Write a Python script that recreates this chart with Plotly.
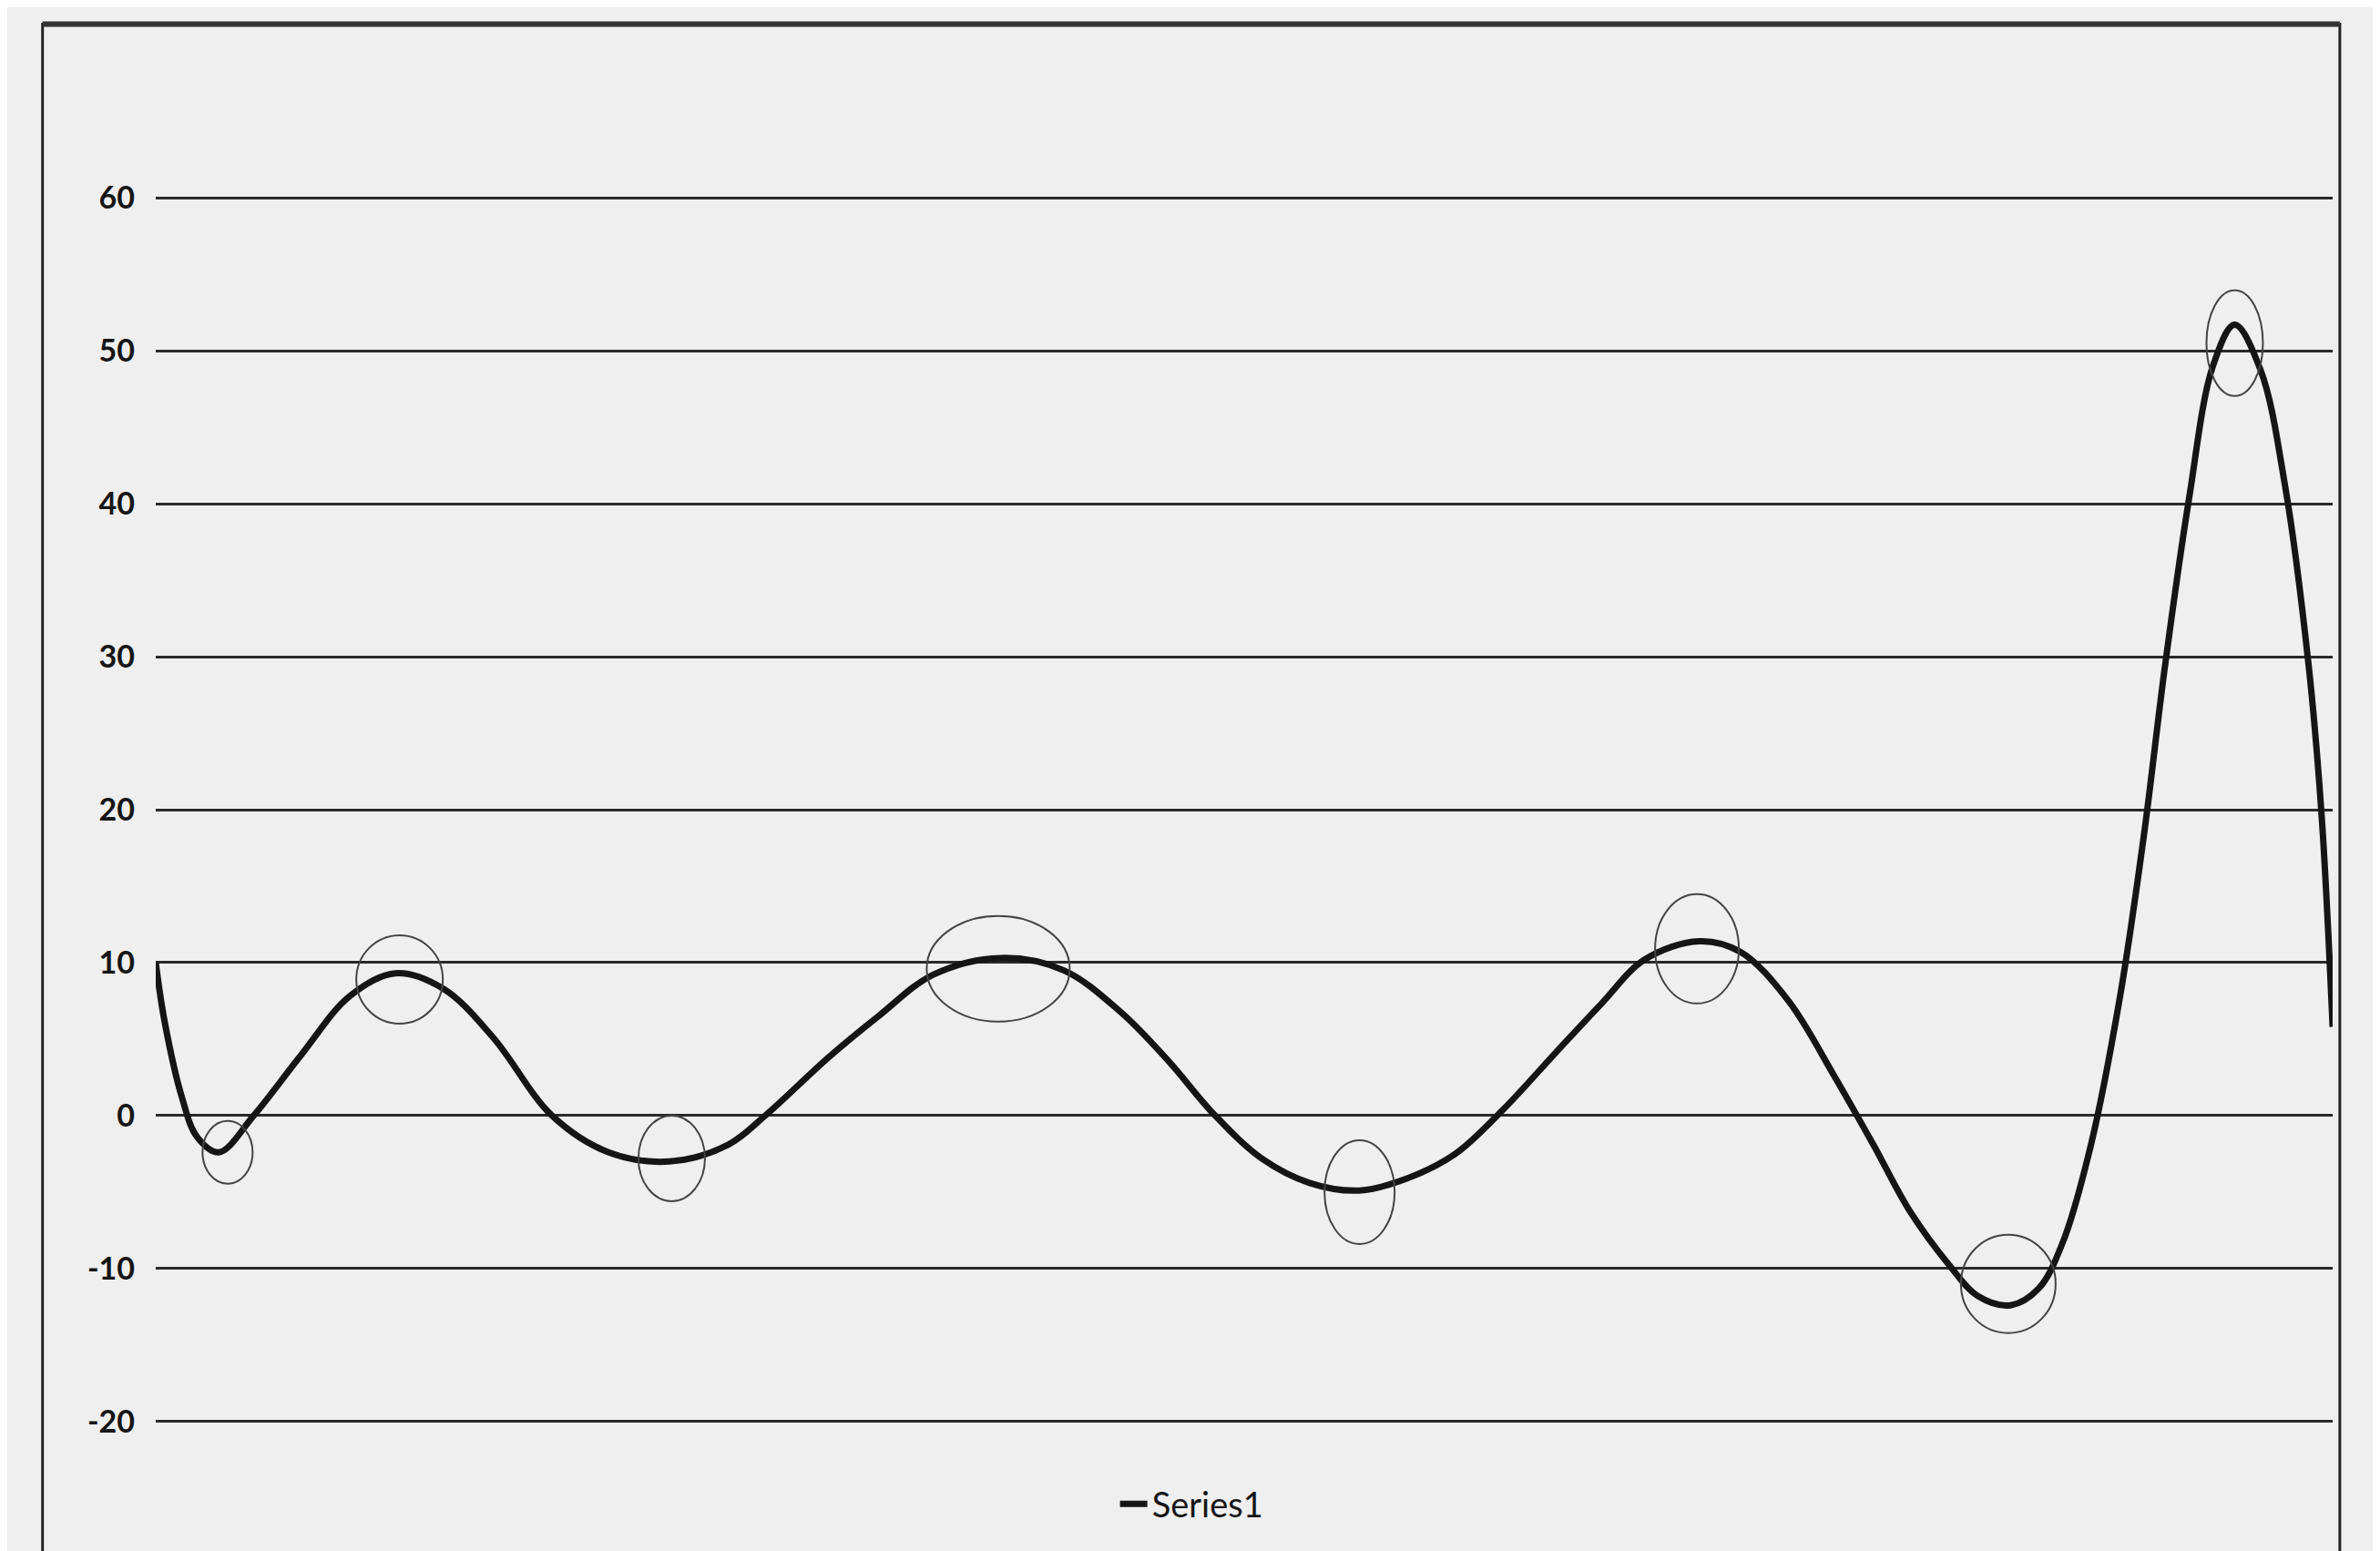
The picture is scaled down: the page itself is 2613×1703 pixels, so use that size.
import plotly.graph_objects as go

# Curve samples (x in arbitrary units 0..10)
curve_x = [0.00, 0.04, 0.12, 0.19, 0.29, 0.45, 0.67, 0.89, 1.10, 1.32, 1.55, 1.82,
           2.08, 2.36, 2.63, 2.80, 3.09, 3.32, 3.57, 3.88, 4.17, 4.43, 4.65, 4.86,
           5.08, 5.30, 5.53, 5.75, 5.97, 6.19, 6.43, 6.64, 6.84, 7.09, 7.28, 7.50,
           7.71, 7.89, 8.06, 8.24, 8.37, 8.52, 8.65, 8.76, 8.89, 9.02, 9.13, 9.23,
           9.34, 9.45, 9.55, 9.67, 9.78, 9.89, 9.95, 10.00]
curve_y = [10.0, 6.2, 1.2, -1.4, -2.4, 0.0, 4.0, 7.8, 9.3, 8.3, 5.1, 0.0,
           -2.4, -3.0, -1.9, 0.0, 3.8, 6.5, 9.2, 10.3, 9.5, 6.8, 3.6, 0.1,
           -2.8, -4.4, -4.9, -4.1, -2.5, 0.4, 4.1, 7.3, 10.2, 11.4, 10.7, 7.5,
           2.6, -1.9, -6.3, -9.8, -11.8, -12.4, -11.3, -8.3, -1.9, 7.5, 18.0, 29.4,
           40.3, 49.0, 51.7, 48.7, 41.3, 29.4, 19.5, 5.8]

# Hand-drawn circles around the turning points (centres in data units)
circle_x = [0.33, 1.12, 2.37, 3.87, 5.53, 7.08, 8.51, 9.55]
circle_y = [-2.4, 8.9, -2.8, 9.6, -5.0, 10.9, -11.0, 50.5]
# circle sizes in pixels (style)
circle_w = [55, 95, 73, 157, 77, 92, 104, 62]
circle_h = [69, 97, 94, 116, 114, 120, 108, 116]

y_ticks = [-20, -10, 0, 10, 20, 30, 40, 50, 60]
series_name = "Series1"

FONT = "Lato"
INK = "#151515"
PAPER = "#efefef"

fig = go.Figure()
fig.add_trace(go.Scatter(
    x=curve_x, y=curve_y, mode="lines", name=series_name,
    line=dict(color=INK, width=7, shape="spline", smoothing=1.0),
))

for cx, cy, w, h in zip(circle_x, circle_y, circle_w, circle_h):
    fig.add_shape(type="circle", xref="x", yref="y", xsizemode="pixel", ysizemode="pixel",
                  xanchor=cx, yanchor=cy, x0=-w / 2, x1=w / 2, y0=-h / 2, y1=h / 2,
                  line=dict(color="#444444", width=2))

# outer chart border (page photo frame)
fig.add_shape(type="rect", xref="paper", yref="paper",
              x0=-0.052, x1=1.0033, y0=-0.2, y1=1.138,
              line=dict(color="#222222", width=3), layer="below")
fig.add_shape(type="line", xref="paper", yref="paper",
              x0=-0.052, x1=1.0033, y0=1.138, y1=1.138,
              line=dict(color="#333333", width=6))

fig.update_layout(
    width=2613, height=1703,
    margin=dict(l=163, r=60, t=205, b=146),
    paper_bgcolor=PAPER, plot_bgcolor=PAPER,
    font=dict(family=FONT, color=INK, size=30),
    showlegend=True,
    legend=dict(orientation="h", x=0.476, xanchor="center", y=-0.064, yanchor="middle",
                font=dict(family=FONT, size=38, color=INK), bgcolor="rgba(0,0,0,0)"),
    xaxis=dict(range=[0, 10], showgrid=False, zeroline=False, showticklabels=False,
               showline=False, ticks=""),
    yaxis=dict(range=[-20.25, 60.25], tickvals=y_ticks, ticktext=[str(v) for v in y_ticks],
               showgrid=True, gridcolor="#2a2a2a", gridwidth=2.5, zeroline=False,
               showline=False, ticks="", ticklabelstandoff=22,
               tickfont=dict(family=FONT, size=34, color=INK, weight="bold")),
)

fig.write_html("out.html")
